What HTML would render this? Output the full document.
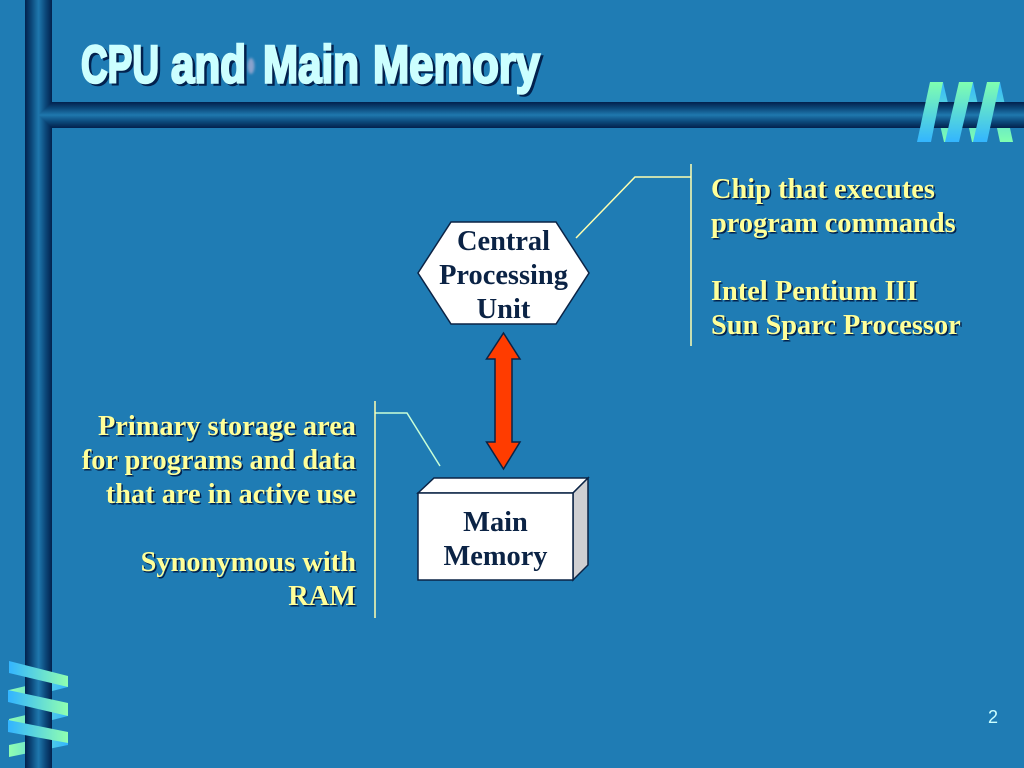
<!DOCTYPE html>
<html>
<head>
<meta charset="utf-8">
<style>
html,body{margin:0;padding:0;background:#1f7cb4;}
body{width:1024px;height:768px;overflow:hidden;position:relative;}
svg{position:absolute;left:0;top:0;}
.s{font-family:"Liberation Serif",serif;font-weight:bold;font-size:28.4px;}
.y{fill:#ffff99;}
.d{fill:#0b2345;}
.t{font-family:"Liberation Sans",sans-serif;font-weight:bold;font-size:53px;}
</style>
</head>
<body>
<svg width="1024" height="768" viewBox="0 0 1024 768" xmlns="http://www.w3.org/2000/svg">
<defs>
<linearGradient id="v" x1="0" x2="1" y1="0" y2="0">
<stop offset="0" stop-color="#02214d"/><stop offset=".25" stop-color="#0c4a7c"/><stop offset=".5" stop-color="#1f78ae"/><stop offset=".75" stop-color="#0c4a7c"/><stop offset="1" stop-color="#02214d"/>
</linearGradient>
<linearGradient id="h" x1="0" x2="0" y1="0" y2="1">
<stop offset="0" stop-color="#02214d"/><stop offset=".25" stop-color="#0c4a7c"/><stop offset=".5" stop-color="#1f78ae"/><stop offset=".75" stop-color="#0c4a7c"/><stop offset="1" stop-color="#02214d"/>
</linearGradient>
<linearGradient id="rt" x1="0" x2="0" y1="82" y2="142" gradientUnits="userSpaceOnUse">
<stop offset="0" stop-color="#80ffb0"/><stop offset="1" stop-color="#33b5ff"/>
</linearGradient>
<linearGradient id="rb" x1="0" x2="0" y1="82" y2="142" gradientUnits="userSpaceOnUse">
<stop offset="0" stop-color="#33b5ff"/><stop offset="1" stop-color="#80ffb0"/>
</linearGradient>
<linearGradient id="lf" x1="9" x2="68" y1="0" y2="0" gradientUnits="userSpaceOnUse">
<stop offset="0" stop-color="#33b5ff"/><stop offset="1" stop-color="#90ffb0"/>
</linearGradient>
<linearGradient id="lb" x1="9" x2="68" y1="0" y2="0" gradientUnits="userSpaceOnUse">
<stop offset="0" stop-color="#90ffb0"/><stop offset="1" stop-color="#33b5ff"/>
</linearGradient>
<filter id="bl" x="-50%" y="-50%" width="200%" height="200%"><feGaussianBlur stdDeviation="1.2"/></filter>
</defs>

<rect width="1024" height="768" fill="#1f7cb4"/>

<!-- top-right back ribbons -->
<polygon points="930,82 943,82 957,142 944,142" fill="url(#rb)"/>
<polygon points="959,82 973,82 986,142 972,142" fill="url(#rb)"/>
<polygon points="987,82 1000,82 1013,142 1000,142" fill="url(#rb)"/>

<!-- left back ribbons -->
<polygon points="68,687 9,702 9,690 68,676" fill="url(#lb)"/>
<polygon points="68,716 9,731 9,719 68,705" fill="url(#lb)"/>
<polygon points="68,745 9,757 9,745 68,733" fill="url(#lb)"/>

<!-- frame -->
<rect x="25" y="0" width="27" height="768" fill="url(#v)"/>
<polygon points="38,115 52,102 1024,102 1024,128 52,128" fill="url(#h)"/>

<!-- top-right front ribbons -->
<polygon points="930,82 943,82 931,142 917,142" fill="url(#rt)"/>
<polygon points="959,82 973,82 959,142 945,142" fill="url(#rt)"/>
<polygon points="987,82 1000,82 987,142 973,142" fill="url(#rt)"/>

<!-- left front ribbons -->
<polygon points="9,661 68,676 68,687 9,673" fill="url(#lf)"/>
<polygon points="8,690 68,703 68,716 8,702" fill="url(#lf)"/>
<polygon points="8,720 68,732 68,743 8,732" fill="url(#lf)"/>

<!-- title -->
<ellipse cx="251" cy="66" rx="3.500" ry="8" fill="#8aa3cc" filter="url(#bl)"/>
<g class="t" fill="#02214d" stroke="#02214d" stroke-width="2.500" transform="translate(2.500,2)">
<text x="81" y="82.500" textLength="78" lengthAdjust="spacingAndGlyphs">CPU</text>
<text x="171" y="82.500" textLength="75" lengthAdjust="spacingAndGlyphs">and</text>
<text x="263" y="82.500" textLength="96" lengthAdjust="spacingAndGlyphs">Main</text>
<text x="373" y="82.500" textLength="167" lengthAdjust="spacingAndGlyphs">Memory</text>
</g>
<g class="t" fill="#ccffff" stroke="#ccffff" stroke-width="2.500">
<text x="81" y="82.500" textLength="78" lengthAdjust="spacingAndGlyphs">CPU</text>
<text x="171" y="82.500" textLength="75" lengthAdjust="spacingAndGlyphs">and</text>
<text x="263" y="82.500" textLength="96" lengthAdjust="spacingAndGlyphs">Main</text>
<text x="373" y="82.500" textLength="167" lengthAdjust="spacingAndGlyphs">Memory</text>
</g>

<!-- callout lines -->
<polyline points="576,238 635,177 691,177" fill="none" stroke="#ffffb0" stroke-width="1.500"/>
<line x1="691" y1="164" x2="691" y2="346" stroke="#ffffb0" stroke-width="1.500"/>
<polyline points="375,413 407,413 440,466" fill="none" stroke="#c8ffd8" stroke-width="1.500"/>
<line x1="375" y1="401" x2="375" y2="618" stroke="#ffffb0" stroke-width="1.500"/>

<!-- CPU hexagon -->
<polygon points="451,222 556,222 589,273 556,324 451,324 418,273" fill="#fff" stroke="#0b2345" stroke-width="1.500"/>
<g class="s d" text-anchor="middle">
<text x="503.500" y="250">Central</text>
<text x="503.500" y="284">Processing</text>
<text x="503.500" y="318">Unit</text>
</g>

<!-- double arrow -->
<polygon points="503.500,333 520,359 512,359 512,442 520,442 503.500,469 486.500,442 495,442 495,359 486.500,359" fill="#ff3c00" stroke="#0b2345" stroke-width="1.500"/>

<!-- Main memory box -->
<polygon points="418,493 434,478 588,478 573,493" fill="#fff" stroke="#0b2345" stroke-width="1.500"/>
<polygon points="573,493 588,478 588,565 573,580" fill="#cfcfd2" stroke="#0b2345" stroke-width="1.500"/>
<rect x="418" y="493" width="155" height="87" fill="#fff" stroke="#0b2345" stroke-width="1.500"/>
<g class="s d" text-anchor="middle">
<text x="495.500" y="531">Main</text>
<text x="495.500" y="565">Memory</text>
</g>

<!-- right text -->
<g class="s" fill="#02214d" transform="translate(1.500,1.500)">
<text x="711" y="198">Chip that executes</text>
<text x="711" y="232">program commands</text>
<text x="711" y="300">Intel Pentium III</text>
<text x="711" y="334">Sun Sparc Processor</text>
</g>
<g class="s y">
<text x="711" y="198">Chip that executes</text>
<text x="711" y="232">program commands</text>
<text x="711" y="300">Intel Pentium III</text>
<text x="711" y="334">Sun Sparc Processor</text>
</g>

<!-- left text -->
<g class="s" fill="#02214d" text-anchor="end" transform="translate(1.500,1.500)">
<text x="356" y="435">Primary storage area</text>
<text x="356" y="469">for programs and data</text>
<text x="356" y="503">that are in active use</text>
<text x="356" y="571">Synonymous with</text>
<text x="356" y="605">RAM</text>
</g>
<g class="s y" text-anchor="end">
<text x="356" y="435">Primary storage area</text>
<text x="356" y="469">for programs and data</text>
<text x="356" y="503">that are in active use</text>
<text x="356" y="571">Synonymous with</text>
<text x="356" y="605">RAM</text>
</g>

<text x="988" y="723" font-family="'Liberation Sans',sans-serif" font-size="18" fill="#ccffff">2</text>
</svg>
</body>
</html>
